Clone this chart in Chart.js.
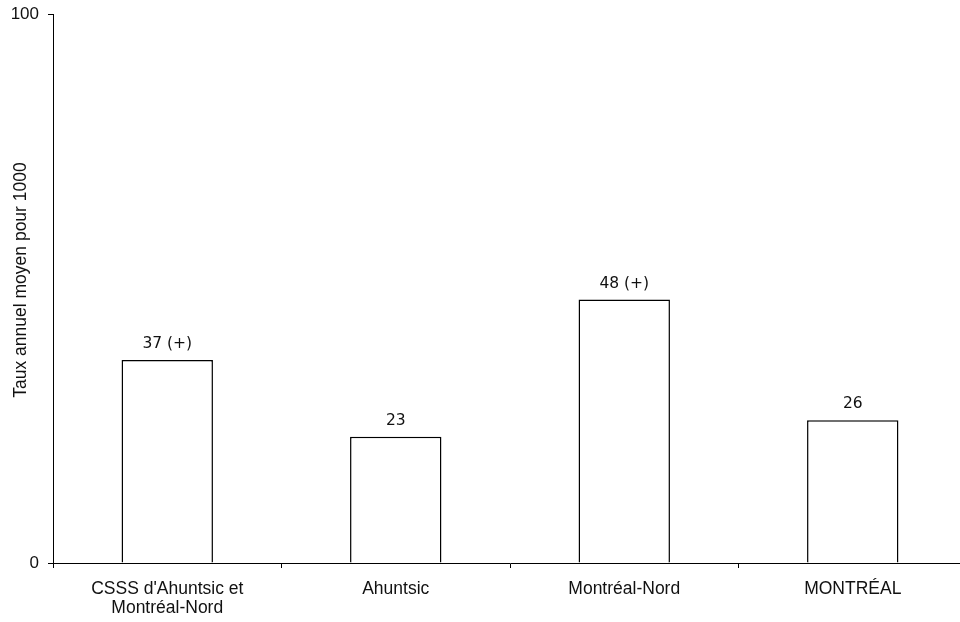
<!DOCTYPE html>
<html><head><meta charset="utf-8">
<script src="https://cdn.jsdelivr.net/npm/chart.js@4/dist/chart.umd.min.js"></script>
<style>html,body{margin:0;padding:0;background:#fff;overflow:hidden;}canvas{display:block;}</style>
</head><body>
<canvas id="c" width="967" height="622"></canvas>
<script>
const categories = [["CSSS d'Ahuntsic et", "Montréal-Nord"], "Ahuntsic", "Montréal-Nord", "MONTRÉAL"];
const values = [37, 23, 48, 26];
const valueLabels = ["37 (+)", "23", "48 (+)", "26"];
const yTitle = "Taux annuel moyen pour 1000";

const labelPlugin = {
  id: 'valueLabels',
  afterDatasetsDraw(chart) {
    const ctx = chart.ctx;
    const meta = chart.getDatasetMeta(0);
    ctx.save();
    ctx.font = '15.5px "DejaVu Sans"';
    ctx.fillStyle = '#111';
    ctx.textAlign = 'center';
    ctx.textBaseline = 'middle';
    meta.data.forEach((bar, i) => {
      ctx.fillText(valueLabels[i], bar.x, bar.y - 16);
    });
    // y axis title
    ctx.font = '17.5px "Liberation Sans"';
    ctx.translate(21, 280);
    ctx.rotate(-Math.PI / 2);
    ctx.fillText(yTitle, 0, 0);
    ctx.restore();
  }
};

new Chart(document.getElementById('c'), {
  type: 'bar',
  data: {
    labels: categories,
    datasets: [{
      data: values,
      backgroundColor: '#ffffff',
      borderColor: '#000000',
      borderWidth: 1.5,
      barPercentage: 0.4,
      categoryPercentage: 1.0
    }]
  },
  options: {
    responsive: false,
    animation: false,
    layout: { padding: { top: 10, right: 0, left: 0, bottom: 0 } },
    plugins: { legend: { display: false }, tooltip: { enabled: false } },
    scales: {
      x: {
        afterFit: s => { s.height = 59; },
        grid: { drawOnChartArea: false, drawTicks: true, tickLength: 5, offset: true, color: '#000' },
        border: { display: true, color: '#000', width: 1 },
        ticks: { color: '#111', font: { family: '"Liberation Sans"', size: 17.5, lineHeight: 1.1 }, padding: 11.5, maxRotation: 0, autoSkip: false }
      },
      y: {
        min: 0, max: 100,
        afterFit: s => { s.width = 53; },
        grid: { drawOnChartArea: false, drawTicks: true, tickLength: 5, color: '#000' },
        border: { display: true, color: '#000', width: 1 },
        ticks: { stepSize: 100, color: '#111', font: { family: '"Liberation Sans"', size: 17, lineHeight: 0.6 }, padding: 9 },
        title: { display: false }
      }
    }
  },
  plugins: [labelPlugin]
});
</script>
</body></html>
